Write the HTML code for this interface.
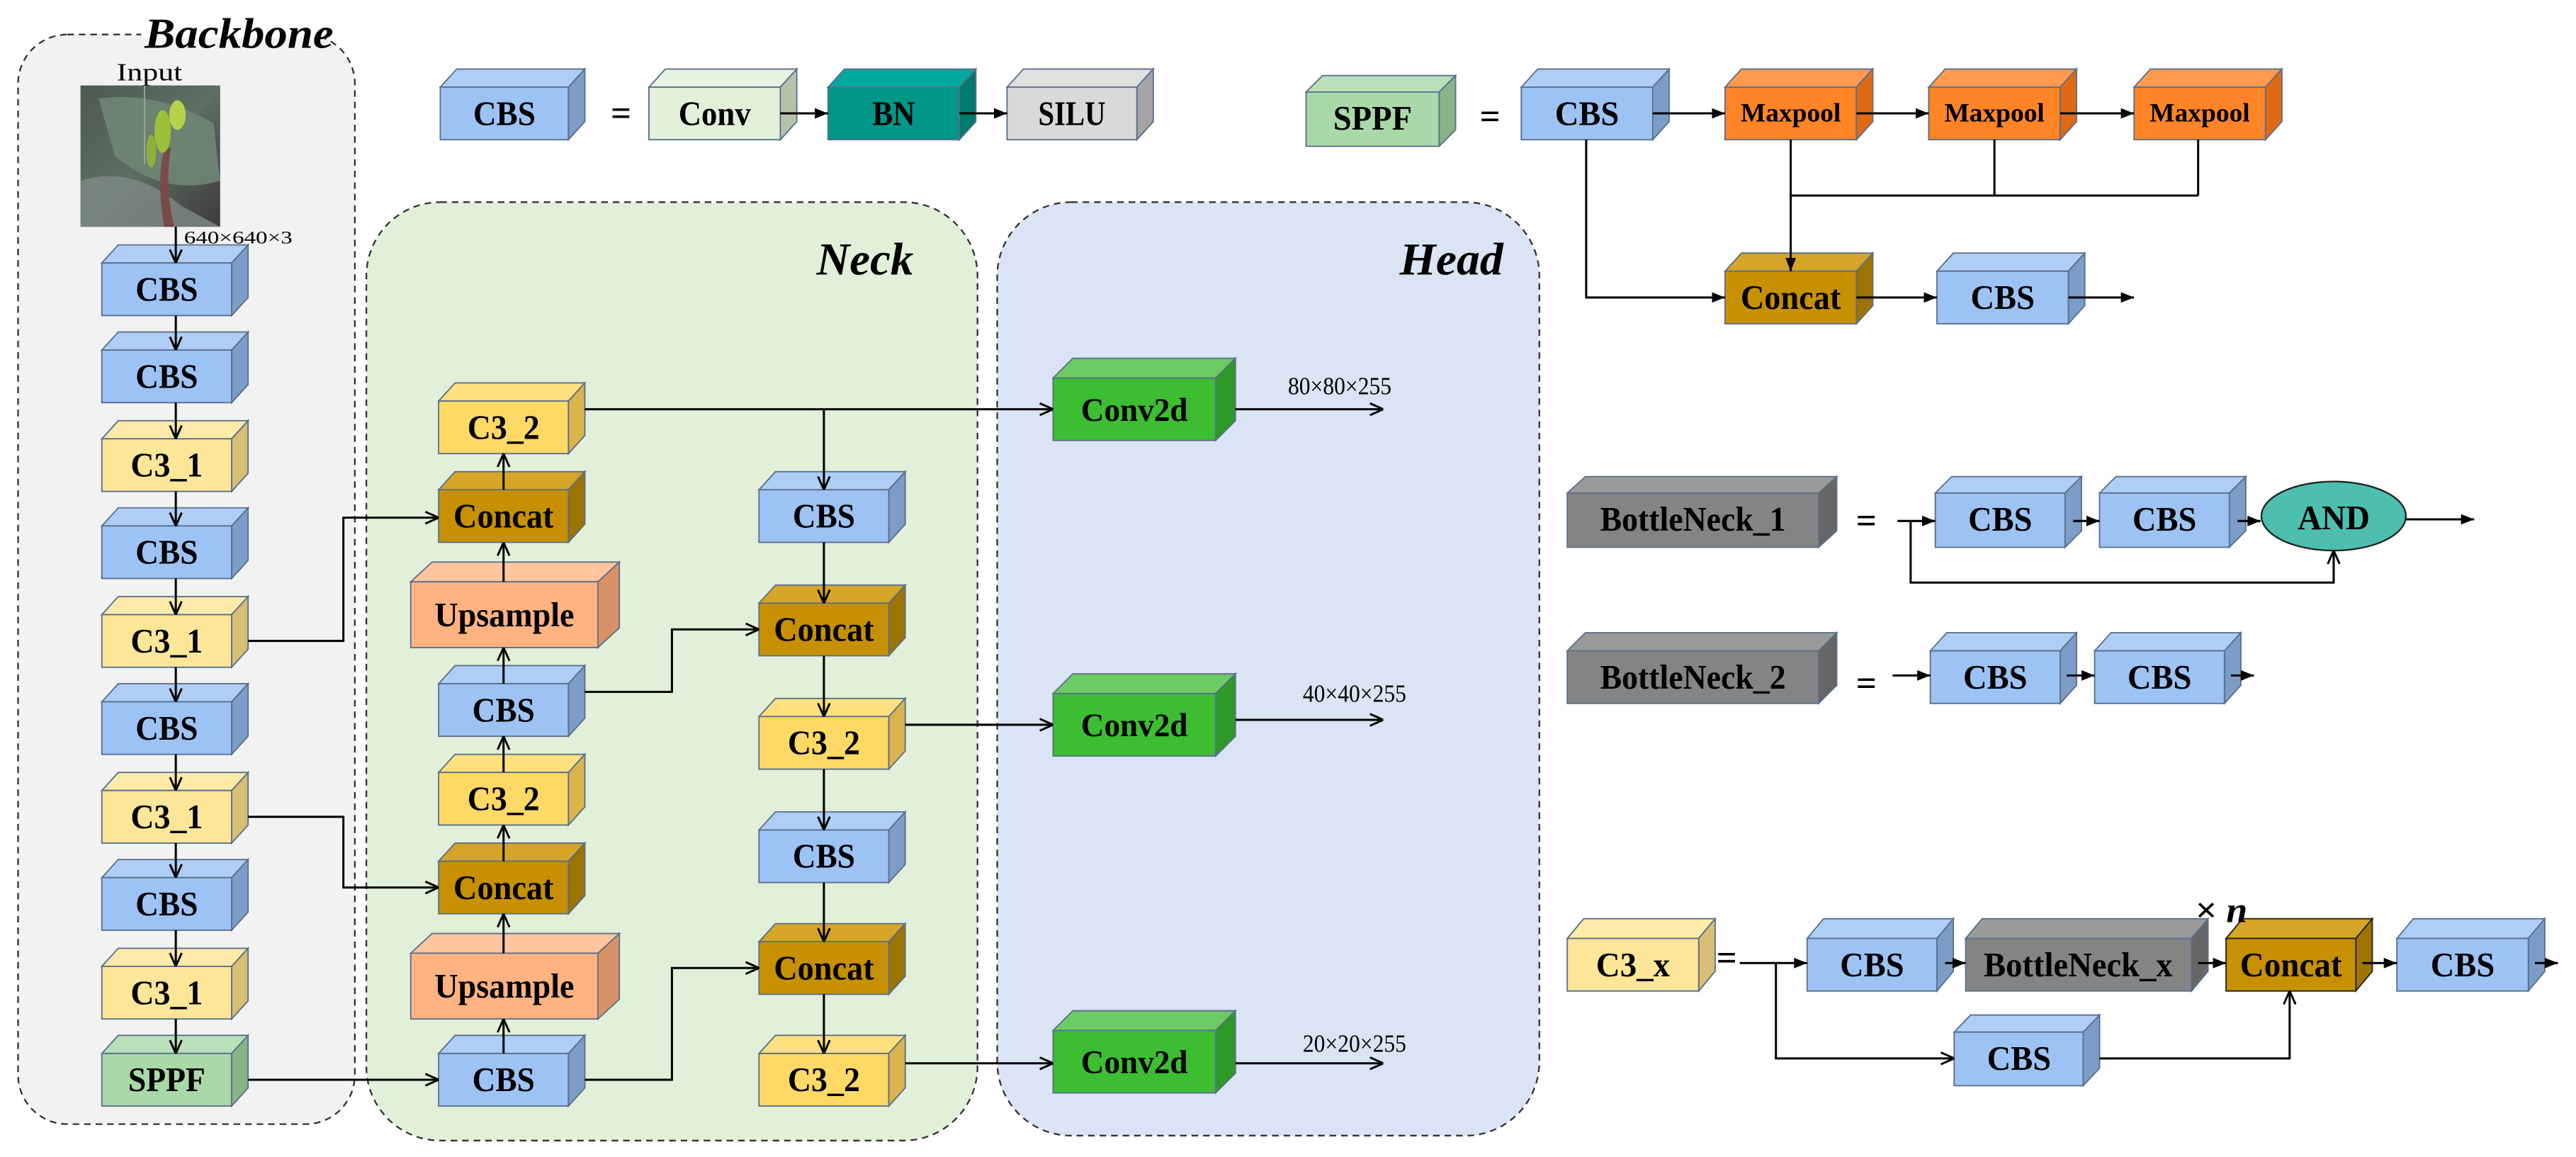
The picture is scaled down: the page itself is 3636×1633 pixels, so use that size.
<!DOCTYPE html>
<html><head><meta charset="utf-8"><style>
html,body{margin:0;padding:0;background:#fff;}
svg{display:block;}
.t{font-family:"Liberation Serif",serif;font-weight:bold;text-anchor:middle;fill:#000;}
.n{font-family:"Liberation Serif",serif;fill:#000;}
.ti{font-family:"Liberation Serif",serif;font-weight:bold;font-style:italic;fill:#000;}
.b polygon,.b rect{stroke:#5b6f8c;stroke-width:0.8;}
.cbs rect{fill:#9dc3f5}.cbs .tp{fill:#aecef6}.cbs .sd{fill:#7b9dc8}
.c31 rect{fill:#fee699}.c31 .tp{fill:#feeaa8}.c31 .sd{fill:#d9be75}
.c32 rect{fill:#ffd966}.c32 .tp{fill:#ffe07e}.c32 .sd{fill:#dab54e}
.cat rect{fill:#c79000}.cat .tp{fill:#d4a526}.cat .sd{fill:#9e7400}
.ups rect{fill:#ffb381}.ups .tp{fill:#ffc6a0}.ups .sd{fill:#d99265}
.spf rect{fill:#a9d9a8}.spf .tp{fill:#bae0b9}.spf .sd{fill:#88b488}
.cnv rect{fill:#e2f0d9}.cnv .tp{fill:#e8f4e1}.cnv .sd{fill:#b5c4a8}
.bn rect{fill:#009688}.bn .tp{fill:#00a99d}.bn .sd{fill:#007a6e}
.sil rect{fill:#d9d9d9}.sil .tp{fill:#e0e0e0}.sil .sd{fill:#a5a5a5}
.mp rect{fill:#ff8426}.mp .tp{fill:#ff9a4f}.mp .sd{fill:#e06a14}
.c2d rect{fill:#3cbd32}.c2d .tp{fill:#6dcb63}.c2d .sd{fill:#2e9a26}
.bk rect{fill:#848484}.bk .tp{fill:#9a9a9a}.bk .sd{fill:#666}
.ln{fill:none;stroke:#000;stroke-width:1.3;}
</style></head><body>
<svg width="3636" height="1633" viewBox="0 0 1568 704" preserveAspectRatio="none" xmlns="http://www.w3.org/2000/svg">
<defs>
<marker id="a" viewBox="0 0 10 10" refX="10" refY="5" markerWidth="9" markerHeight="9" orient="auto" markerUnits="userSpaceOnUse"><path d="M1,1 L10,5 L1,9" fill="none" stroke="#000" stroke-width="1.4"/></marker>
<marker id="f" viewBox="0 0 10 10" refX="10" refY="5" markerWidth="8" markerHeight="8" orient="auto" markerUnits="userSpaceOnUse"><path d="M0,1 L10,5 L0,9 z" fill="#000"/></marker>
<linearGradient id="ph" x1="0" y1="0" x2="1" y2="1"><stop offset="0" stop-color="#4d5a50"/><stop offset="0.5" stop-color="#5d6e62"/><stop offset="1" stop-color="#3e3a3c"/></linearGradient>
</defs>
<rect width="1568" height="704" fill="#fff"/>

<!-- panels -->
<rect x="11" y="21" width="205" height="663" rx="30" fill="#f2f2f2" stroke="#333" stroke-width="1" stroke-dasharray="4,3"/>
<rect x="86" y="14" width="120" height="9" fill="#fff"/>
<text class="ti" x="88" y="29" font-size="26" textLength="115" lengthAdjust="spacingAndGlyphs">Backbone</text>
<rect x="223" y="123" width="372" height="571" rx="45" fill="#e2f0d9" stroke="#333" stroke-width="1" stroke-dasharray="4,3"/>
<text class="ti" x="497" y="167" font-size="28" textLength="59" lengthAdjust="spacingAndGlyphs">Neck</text>
<rect x="607" y="123" width="330" height="568" rx="45" fill="#dae4f4" stroke="#333" stroke-width="1" stroke-dasharray="4,3"/>
<text class="ti" x="852" y="167" font-size="28" textLength="63" lengthAdjust="spacingAndGlyphs">Head</text>

<!-- input -->
<text class="n" x="71" y="49" font-size="15" textLength="40" lengthAdjust="spacingAndGlyphs">Input</text>
<rect x="49" y="52" width="85" height="86" fill="url(#ph)"/>
<path d="M60,60 Q95,55 130,75 L134,110 Q100,120 70,95 Z" fill="#6f8574" opacity="0.9"/>
<path d="M49,110 Q80,100 110,125 L134,138 L49,138 Z" fill="#7d8a86" opacity="0.8"/>
<path d="M100,138 Q95,110 100,90 L104,90 Q100,112 106,138Z" fill="#7a4a4a"/>
<ellipse cx="99" cy="80" rx="5" ry="13" fill="#9cbf3a"/>
<ellipse cx="108" cy="70" rx="5" ry="9" fill="#b5d24a"/>
<ellipse cx="92" cy="92" rx="3" ry="10" fill="#8fb03a"/>
<line x1="88" y1="52" x2="88" y2="100" stroke="#9aa89c" stroke-width="0.8"/>
<text class="n" x="112" y="148" font-size="11" textLength="66" lengthAdjust="spacingAndGlyphs">640×640×3</text>

<!-- backbone boxes -->
<g class="b cbs"><polygon class="tp" points="62,160 72,149 151,149 141,160"/><polygon class="sd" points="141,160 151,149 151,181 141,192"/><rect x="62" y="160" width="79" height="32"/><text class="t" x="101.5" y="183" font-size="21" textLength="38" lengthAdjust="spacingAndGlyphs">CBS</text></g>
<g class="b cbs"><polygon class="tp" points="62,213 72,202 151,202 141,213"/><polygon class="sd" points="141,213 151,202 151,234 141,245"/><rect x="62" y="213" width="79" height="32"/><text class="t" x="101.5" y="236" font-size="21" textLength="38" lengthAdjust="spacingAndGlyphs">CBS</text></g>
<g class="b c31"><polygon class="tp" points="62,267 72,256 151,256 141,267"/><polygon class="sd" points="141,267 151,256 151,288 141,299"/><rect x="62" y="267" width="79" height="32"/><text class="t" x="101.5" y="290" font-size="21" textLength="44" lengthAdjust="spacingAndGlyphs">C3_1</text></g>
<g class="b cbs"><polygon class="tp" points="62,320 72,309 151,309 141,320"/><polygon class="sd" points="141,320 151,309 151,341 141,352"/><rect x="62" y="320" width="79" height="32"/><text class="t" x="101.5" y="343" font-size="21" textLength="38" lengthAdjust="spacingAndGlyphs">CBS</text></g>
<g class="b c31"><polygon class="tp" points="62,374 72,363 151,363 141,374"/><polygon class="sd" points="141,374 151,363 151,395 141,406"/><rect x="62" y="374" width="79" height="32"/><text class="t" x="101.5" y="397" font-size="21" textLength="44" lengthAdjust="spacingAndGlyphs">C3_1</text></g>
<g class="b cbs"><polygon class="tp" points="62,427 72,416 151,416 141,427"/><polygon class="sd" points="141,427 151,416 151,448 141,459"/><rect x="62" y="427" width="79" height="32"/><text class="t" x="101.5" y="450" font-size="21" textLength="38" lengthAdjust="spacingAndGlyphs">CBS</text></g>
<g class="b c31"><polygon class="tp" points="62,481 72,470 151,470 141,481"/><polygon class="sd" points="141,481 151,470 151,502 141,513"/><rect x="62" y="481" width="79" height="32"/><text class="t" x="101.5" y="504" font-size="21" textLength="44" lengthAdjust="spacingAndGlyphs">C3_1</text></g>
<g class="b cbs"><polygon class="tp" points="62,534 72,523 151,523 141,534"/><polygon class="sd" points="141,534 151,523 151,555 141,566"/><rect x="62" y="534" width="79" height="32"/><text class="t" x="101.5" y="557" font-size="21" textLength="38" lengthAdjust="spacingAndGlyphs">CBS</text></g>
<g class="b c31"><polygon class="tp" points="62,588 72,577 151,577 141,588"/><polygon class="sd" points="141,588 151,577 151,609 141,620"/><rect x="62" y="588" width="79" height="32"/><text class="t" x="101.5" y="611" font-size="21" textLength="44" lengthAdjust="spacingAndGlyphs">C3_1</text></g>
<g class="b spf"><polygon class="tp" points="62,641 72,630 151,630 141,641"/><polygon class="sd" points="141,641 151,630 151,662 141,673"/><rect x="62" y="641" width="79" height="32"/><text class="t" x="101.5" y="664" font-size="21" textLength="47" lengthAdjust="spacingAndGlyphs">SPPF</text></g>

<!-- backbone arrows -->
<g class="ln" marker-end="url(#a)">
<line x1="107" y1="138" x2="107" y2="160"/>
<line x1="107" y1="192" x2="107" y2="213"/>
<line x1="107" y1="245" x2="107" y2="267"/>
<line x1="107" y1="299" x2="107" y2="320"/>
<line x1="107" y1="352" x2="107" y2="374"/>
<line x1="107" y1="406" x2="107" y2="427"/>
<line x1="107" y1="459" x2="107" y2="481"/>
<line x1="107" y1="513" x2="107" y2="534"/>
<line x1="107" y1="566" x2="107" y2="588"/>
<line x1="107" y1="620" x2="107" y2="641"/>
</g>

<!-- neck col1 -->
<g class="b c32"><polygon class="tp" points="267,244 277,233 356,233 346,244"/><polygon class="sd" points="346,244 356,233 356,265 346,276"/><rect x="267" y="244" width="79" height="32"/><text class="t" x="306.5" y="267" font-size="21" textLength="44" lengthAdjust="spacingAndGlyphs">C3_2</text></g>
<g class="b cat"><polygon class="tp" points="267,298 277,287 356,287 346,298"/><polygon class="sd" points="346,298 356,287 356,319 346,330"/><rect x="267" y="298" width="79" height="32"/><text class="t" x="306.5" y="321" font-size="21" textLength="61" lengthAdjust="spacingAndGlyphs">Concat</text></g>
<g class="b ups"><polygon class="tp" points="250,354 263,342 377,342 364,354"/><polygon class="sd" points="364,354 377,342 377,382 364,394"/><rect x="250" y="354" width="114" height="40"/><text class="t" x="307" y="381" font-size="21" textLength="85" lengthAdjust="spacingAndGlyphs">Upsample</text></g>
<g class="b cbs"><polygon class="tp" points="267,416 277,405 356,405 346,416"/><polygon class="sd" points="346,416 356,405 356,437 346,448"/><rect x="267" y="416" width="79" height="32"/><text class="t" x="306.5" y="439" font-size="21" textLength="38" lengthAdjust="spacingAndGlyphs">CBS</text></g>
<g class="b c32"><polygon class="tp" points="267,470 277,459 356,459 346,470"/><polygon class="sd" points="346,470 356,459 356,491 346,502"/><rect x="267" y="470" width="79" height="32"/><text class="t" x="306.5" y="493" font-size="21" textLength="44" lengthAdjust="spacingAndGlyphs">C3_2</text></g>
<g class="b cat"><polygon class="tp" points="267,524 277,513 356,513 346,524"/><polygon class="sd" points="346,524 356,513 356,545 346,556"/><rect x="267" y="524" width="79" height="32"/><text class="t" x="306.5" y="547" font-size="21" textLength="61" lengthAdjust="spacingAndGlyphs">Concat</text></g>
<g class="b ups"><polygon class="tp" points="250,580 263,568 377,568 364,580"/><polygon class="sd" points="364,580 377,568 377,608 364,620"/><rect x="250" y="580" width="114" height="40"/><text class="t" x="307" y="607" font-size="21" textLength="85" lengthAdjust="spacingAndGlyphs">Upsample</text></g>
<g class="b cbs"><polygon class="tp" points="267,641 277,630 356,630 346,641"/><polygon class="sd" points="346,641 356,630 356,662 346,673"/><rect x="267" y="641" width="79" height="32"/><text class="t" x="306.5" y="664" font-size="21" textLength="38" lengthAdjust="spacingAndGlyphs">CBS</text></g>

<!-- neck col2 -->
<g class="b cbs"><polygon class="tp" points="462,298 472,287 551,287 541,298"/><polygon class="sd" points="541,298 551,287 551,319 541,330"/><rect x="462" y="298" width="79" height="32"/><text class="t" x="501.5" y="321" font-size="21" textLength="38" lengthAdjust="spacingAndGlyphs">CBS</text></g>
<g class="b cat"><polygon class="tp" points="462,367 472,356 551,356 541,367"/><polygon class="sd" points="541,367 551,356 551,388 541,399"/><rect x="462" y="367" width="79" height="32"/><text class="t" x="501.5" y="390" font-size="21" textLength="61" lengthAdjust="spacingAndGlyphs">Concat</text></g>
<g class="b c32"><polygon class="tp" points="462,436 472,425 551,425 541,436"/><polygon class="sd" points="541,436 551,425 551,457 541,468"/><rect x="462" y="436" width="79" height="32"/><text class="t" x="501.5" y="459" font-size="21" textLength="44" lengthAdjust="spacingAndGlyphs">C3_2</text></g>
<g class="b cbs"><polygon class="tp" points="462,505 472,494 551,494 541,505"/><polygon class="sd" points="541,505 551,494 551,526 541,537"/><rect x="462" y="505" width="79" height="32"/><text class="t" x="501.5" y="528" font-size="21" textLength="38" lengthAdjust="spacingAndGlyphs">CBS</text></g>
<g class="b cat"><polygon class="tp" points="462,573 472,562 551,562 541,573"/><polygon class="sd" points="541,573 551,562 551,594 541,605"/><rect x="462" y="573" width="79" height="32"/><text class="t" x="501.5" y="596" font-size="21" textLength="61" lengthAdjust="spacingAndGlyphs">Concat</text></g>
<g class="b c32"><polygon class="tp" points="462,641 472,630 551,630 541,641"/><polygon class="sd" points="541,641 551,630 551,662 541,673"/><rect x="462" y="641" width="79" height="32"/><text class="t" x="501.5" y="664" font-size="21" textLength="44" lengthAdjust="spacingAndGlyphs">C3_2</text></g>

<!-- head -->
<g class="b c2d"><polygon class="tp" points="641,230 653,218 752,218 740,230"/><polygon class="sd" points="740,230 752,218 752,256 740,268"/><rect x="641" y="230" width="99" height="38"/><text class="t" x="690.5" y="256" font-size="20" textLength="65" lengthAdjust="spacingAndGlyphs">Conv2d</text></g>
<g class="b c2d"><polygon class="tp" points="641,422 653,410 752,410 740,422"/><polygon class="sd" points="740,422 752,410 752,448 740,460"/><rect x="641" y="422" width="99" height="38"/><text class="t" x="690.5" y="448" font-size="20" textLength="65" lengthAdjust="spacingAndGlyphs">Conv2d</text></g>
<g class="b c2d"><polygon class="tp" points="641,627 653,615 752,615 740,627"/><polygon class="sd" points="740,627 752,615 752,653 740,665"/><rect x="641" y="627" width="99" height="38"/><text class="t" x="690.5" y="653" font-size="20" textLength="65" lengthAdjust="spacingAndGlyphs">Conv2d</text></g>
<text class="n" x="784" y="240" font-size="15" textLength="63" lengthAdjust="spacingAndGlyphs">80×80×255</text>
<text class="n" x="793" y="427" font-size="15" textLength="63" lengthAdjust="spacingAndGlyphs">40×40×255</text>
<text class="n" x="793" y="640" font-size="15" textLength="63" lengthAdjust="spacingAndGlyphs">20×20×255</text>

<!-- neck connectors -->
<g class="ln" marker-end="url(#a)">
<line x1="306.5" y1="641" x2="306.5" y2="620"/>
<line x1="306.5" y1="580" x2="306.5" y2="556"/>
<line x1="306.5" y1="524" x2="306.5" y2="502"/>
<line x1="306.5" y1="470" x2="306.5" y2="448"/>
<line x1="306.5" y1="416" x2="306.5" y2="394"/>
<line x1="306.5" y1="354" x2="306.5" y2="330"/>
<line x1="306.5" y1="298" x2="306.5" y2="276"/>
<line x1="501.5" y1="249" x2="501.5" y2="298"/>
<line x1="501.5" y1="330" x2="501.5" y2="367"/>
<line x1="501.5" y1="399" x2="501.5" y2="436"/>
<line x1="501.5" y1="468" x2="501.5" y2="505"/>
<line x1="501.5" y1="537" x2="501.5" y2="573"/>
<line x1="501.5" y1="605" x2="501.5" y2="641"/>
<line x1="356" y1="249" x2="641" y2="249"/>
<polyline points="151,390 209,390 209,315 267,315"/>
<polyline points="151,497 209,497 209,540 267,540"/>
<line x1="151" y1="657" x2="267" y2="657"/>
<polyline points="356,421 409,421 409,383 462,383"/>
<polyline points="356,657 409,657 409,589 462,589"/>
<line x1="551" y1="441" x2="641" y2="441"/>
<line x1="551" y1="647" x2="641" y2="647"/>
<line x1="752" y1="249" x2="842" y2="249"/>
<line x1="752" y1="438" x2="842" y2="438"/>
<line x1="752" y1="647" x2="842" y2="647"/>
</g>

<!-- legend CBS -->
<g class="b cbs"><polygon class="tp" points="268,53 278,42 356,42 346,53"/><polygon class="sd" points="346,53 356,42 356,74 346,85"/><rect x="268" y="53" width="78" height="32"/><text class="t" x="307" y="76" font-size="21" textLength="38" lengthAdjust="spacingAndGlyphs">CBS</text></g>
<text class="t" x="378" y="76" font-size="22">=</text>
<g class="b cnv"><polygon class="tp" points="395,53 405,42 485,42 475,53"/><polygon class="sd" points="475,53 485,42 485,74 475,85"/><rect x="395" y="53" width="80" height="32"/><text class="t" x="435" y="76" font-size="21" textLength="44" lengthAdjust="spacingAndGlyphs">Conv</text></g>
<g class="b bn"><polygon class="tp" points="504,53 514,42 594,42 584,53"/><polygon class="sd" points="584,53 594,42 594,74 584,85"/><rect x="504" y="53" width="80" height="32"/><text class="t" x="544" y="76" font-size="21" textLength="26" lengthAdjust="spacingAndGlyphs">BN</text></g>
<g class="b sil"><polygon class="tp" points="613,53 623,42 702,42 692,53"/><polygon class="sd" points="692,53 702,42 702,74 692,85"/><rect x="613" y="53" width="79" height="32"/><text class="t" x="652.5" y="76" font-size="21" textLength="41" lengthAdjust="spacingAndGlyphs">SILU</text></g>
<g class="ln" marker-end="url(#f)"><line x1="475" y1="69" x2="504" y2="69"/><line x1="584" y1="69" x2="613" y2="69"/></g>

<!-- legend SPPF -->
<g class="b spf"><polygon class="tp" points="795,56 805,46 886,46 876,56"/><polygon class="sd" points="876,56 886,46 886,79 876,89"/><rect x="795" y="56" width="81" height="33"/><text class="t" x="835.5" y="79" font-size="21" textLength="48" lengthAdjust="spacingAndGlyphs">SPPF</text></g>
<text class="t" x="907" y="78" font-size="22">=</text>
<g class="b cbs"><polygon class="tp" points="926,53 936,42 1016,42 1006,53"/><polygon class="sd" points="1006,53 1016,42 1016,74 1006,85"/><rect x="926" y="53" width="80" height="32"/><text class="t" x="966" y="76" font-size="21" textLength="39" lengthAdjust="spacingAndGlyphs">CBS</text></g>
<g class="b mp"><polygon class="tp" points="1050,53 1060,42 1140,42 1130,53"/><polygon class="sd" points="1130,53 1140,42 1140,74 1130,85"/><rect x="1050" y="53" width="80" height="32"/><text class="t" x="1090" y="74" font-size="16" textLength="61" lengthAdjust="spacingAndGlyphs">Maxpool</text></g>
<g class="b mp"><polygon class="tp" points="1174,53 1184,42 1264,42 1254,53"/><polygon class="sd" points="1254,53 1264,42 1264,74 1254,85"/><rect x="1174" y="53" width="80" height="32"/><text class="t" x="1214" y="74" font-size="16" textLength="61" lengthAdjust="spacingAndGlyphs">Maxpool</text></g>
<g class="b mp"><polygon class="tp" points="1299,53 1309,42 1389,42 1379,53"/><polygon class="sd" points="1379,53 1389,42 1389,74 1379,85"/><rect x="1299" y="53" width="80" height="32"/><text class="t" x="1339" y="74" font-size="16" textLength="61" lengthAdjust="spacingAndGlyphs">Maxpool</text></g>
<g class="b cat"><polygon class="tp" points="1050,165 1060,154 1140,154 1130,165"/><polygon class="sd" points="1130,165 1140,154 1140,186 1130,197"/><rect x="1050" y="165" width="80" height="32"/><text class="t" x="1090" y="188" font-size="21" textLength="61" lengthAdjust="spacingAndGlyphs">Concat</text></g>
<g class="b cbs"><polygon class="tp" points="1179,165 1189,154 1269,154 1259,165"/><polygon class="sd" points="1259,165 1269,154 1269,186 1259,197"/><rect x="1179" y="165" width="80" height="32"/><text class="t" x="1219" y="188" font-size="21" textLength="39" lengthAdjust="spacingAndGlyphs">CBS</text></g>
<g class="ln">
<line x1="1214" y1="85" x2="1214" y2="119"/>
<line x1="1338" y1="85" x2="1338" y2="119"/>
<line x1="1090" y1="119" x2="1338" y2="119"/>
</g>
<g class="ln" marker-end="url(#f)">
<line x1="1006" y1="69" x2="1050" y2="69"/>
<line x1="1130" y1="69" x2="1174" y2="69"/>
<line x1="1254" y1="69" x2="1299" y2="69"/>
<line x1="1090" y1="85" x2="1090" y2="165"/>
<polyline points="965.5,85 965.5,181 1050,181"/>
<line x1="1130" y1="181" x2="1179" y2="181"/>
<line x1="1259" y1="181" x2="1299" y2="181"/>
</g>

<!-- BottleNeck_1 -->
<g class="b bk"><polygon class="tp" points="954,300 965,290 1118,290 1107,300"/><polygon class="sd" points="1107,300 1118,290 1118,323 1107,333"/><rect x="954" y="300" width="153" height="33"/><text class="t" x="1030.5" y="323" font-size="21" textLength="113" lengthAdjust="spacingAndGlyphs">BottleNeck_1</text></g>
<text class="t" x="1136" y="324" font-size="22">=</text>
<g class="b cbs"><polygon class="tp" points="1178,300 1188,290 1267,290 1257,300"/><polygon class="sd" points="1257,300 1267,290 1267,323 1257,333"/><rect x="1178" y="300" width="79" height="33"/><text class="t" x="1217.5" y="323" font-size="21" textLength="39" lengthAdjust="spacingAndGlyphs">CBS</text></g>
<g class="b cbs"><polygon class="tp" points="1278,300 1288,290 1367,290 1357,300"/><polygon class="sd" points="1357,300 1367,290 1367,323 1357,333"/><rect x="1278" y="300" width="79" height="33"/><text class="t" x="1317.5" y="323" font-size="21" textLength="39" lengthAdjust="spacingAndGlyphs">CBS</text></g>
<ellipse cx="1420.5" cy="314" rx="44" ry="21" fill="#4dbfae" stroke="#222" stroke-width="1"/>
<text class="t" x="1420.5" y="322" font-size="21" textLength="44" lengthAdjust="spacingAndGlyphs">AND</text>
<g class="ln" marker-end="url(#f)">
<line x1="1155" y1="317" x2="1178" y2="317"/>
<line x1="1262" y1="317" x2="1278" y2="317"/>
<line x1="1362" y1="317" x2="1376" y2="317"/>
<line x1="1464" y1="316" x2="1506" y2="316"/>
</g>
<polyline class="ln" points="1163,317 1163,354.5 1420.5,354.5 1420.5,335" marker-end="url(#a)"/>

<!-- BottleNeck_2 -->
<g class="b bk"><polygon class="tp" points="954,396 965,385 1118,385 1107,396"/><polygon class="sd" points="1107,396 1118,385 1118,417 1107,428"/><rect x="954" y="396" width="153" height="32"/><text class="t" x="1030.5" y="419" font-size="21" textLength="113" lengthAdjust="spacingAndGlyphs">BottleNeck_2</text></g>
<text class="t" x="1136" y="423" font-size="22">=</text>
<g class="b cbs"><polygon class="tp" points="1175,396 1185,385 1264,385 1254,396"/><polygon class="sd" points="1254,396 1264,385 1264,417 1254,428"/><rect x="1175" y="396" width="79" height="32"/><text class="t" x="1214.5" y="419" font-size="21" textLength="39" lengthAdjust="spacingAndGlyphs">CBS</text></g>
<g class="b cbs"><polygon class="tp" points="1275,396 1285,385 1364,385 1354,396"/><polygon class="sd" points="1354,396 1364,385 1364,417 1354,428"/><rect x="1275" y="396" width="79" height="32"/><text class="t" x="1314.5" y="419" font-size="21" textLength="39" lengthAdjust="spacingAndGlyphs">CBS</text></g>
<g class="ln" marker-end="url(#f)">
<line x1="1152" y1="411" x2="1175" y2="411"/>
<line x1="1258" y1="411" x2="1275" y2="411"/>
<line x1="1358" y1="411" x2="1372" y2="411"/>
</g>

<!-- C3_x -->
<g class="b c31"><polygon class="tp" points="954,571 964,559 1044,559 1034,571"/><polygon class="sd" points="1034,571 1044,559 1044,591 1034,603"/><rect x="954" y="571" width="80" height="32"/><text class="t" x="994" y="594" font-size="21" textLength="45" lengthAdjust="spacingAndGlyphs">C3_x</text></g>
<text class="t" x="1051" y="590" font-size="22">=</text>
<g class="b cbs"><polygon class="tp" points="1100,571 1110,559 1189,559 1179,571"/><polygon class="sd" points="1179,571 1189,559 1189,591 1179,603"/><rect x="1100" y="571" width="79" height="32"/><text class="t" x="1139.5" y="594" font-size="21" textLength="39" lengthAdjust="spacingAndGlyphs">CBS</text></g>
<g class="b bk"><polygon class="tp" points="1196.5,571 1206.5,559 1344,559 1334,571"/><polygon class="sd" points="1334,571 1344,559 1344,591 1334,603"/><rect x="1196.5" y="571" width="137.5" height="32"/><text class="t" x="1265" y="594" font-size="21" textLength="115" lengthAdjust="spacingAndGlyphs">BottleNeck_x</text></g>
<g class="b cat"><polygon class="tp" points="1355,571 1365,559 1444,559 1434,571" style="stroke:#222"/><polygon class="sd" points="1434,571 1444,559 1444,591 1434,603" style="stroke:#222"/><rect x="1355" y="571" width="79" height="32" style="stroke:#222"/><text class="t" x="1394.5" y="594" font-size="21" textLength="62" lengthAdjust="spacingAndGlyphs">Concat</text></g>
<g class="b cbs"><polygon class="tp" points="1459,571 1469,559 1549,559 1539,571"/><polygon class="sd" points="1539,571 1549,559 1549,591 1539,603"/><rect x="1459" y="571" width="80" height="32"/><text class="t" x="1499" y="594" font-size="21" textLength="39" lengthAdjust="spacingAndGlyphs">CBS</text></g>
<text class="ti" x="1336" y="561" font-size="22" textLength="32" lengthAdjust="spacingAndGlyphs">× n</text>
<g class="b cbs"><polygon class="tp" points="1189.5,628 1199.5,617.6 1278,617.6 1268,628"/><polygon class="sd" points="1268,628 1278,617.6 1278,650 1268,660.6"/><rect x="1189.5" y="628" width="78.5" height="32.6"/><text class="t" x="1229" y="651" font-size="21" textLength="39" lengthAdjust="spacingAndGlyphs">CBS</text></g>
<g class="ln" marker-end="url(#f)">
<line x1="1059" y1="586" x2="1100" y2="586"/>
<line x1="1184" y1="586" x2="1196.5" y2="586"/>
<line x1="1338" y1="586" x2="1355" y2="586"/>
<line x1="1438" y1="586" x2="1459" y2="586"/>
<line x1="1543" y1="586" x2="1557" y2="586"/>
</g>
<g class="ln" marker-end="url(#a)">
<polyline points="1081,586 1081,644 1189.5,644"/>
<polyline points="1278,644 1393.7,644 1393.7,603"/>
</g>
</svg>
</body></html>
